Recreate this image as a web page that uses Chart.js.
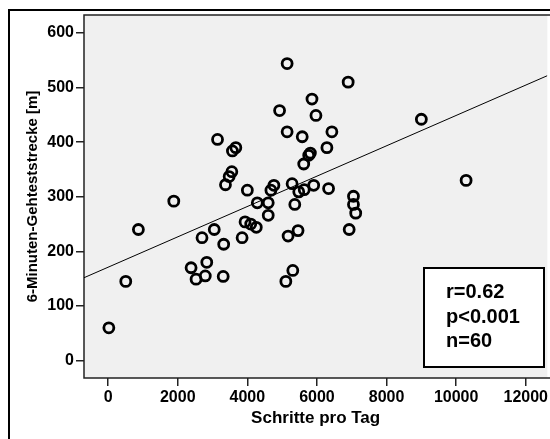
<!DOCTYPE html>
<html>
<head>
<meta charset="utf-8">
<script src="https://cdn.jsdelivr.net/npm/chart.js@4/dist/chart.umd.min.js"></script>
<style>
	body { margin: 0; background: #fff; overflow: hidden; }
	canvas { display: block; }
</style>
</head>
<body>
<canvas id="chart" width="550" height="439"></canvas>
<script>

// Schritte pro Tag vs. 6-Minuten-Gehtest
const stepsPerDay = [
	20, 506, 869, 1886, 2383, 2526, 2791, 2834, 2697, 3049,
	3320, 3306, 3143, 3371, 3477, 3554, 3571, 3669, 4000, 3849,
	3934, 4097, 4257, 4286, 4600, 4600, 4677, 4763, 4926, 5143,
	5143, 5106, 5171, 5286, 5306, 5363, 5457, 5477, 5577, 5620,
	5634, 5763, 5811, 5857, 5906, 5971, 6286, 6334, 6429, 6897,
	6926, 7049, 7049, 7114, 9000, 10286
];
const walkDistance = [
	60, 145, 240, 292, 170, 149, 155, 180, 225, 240,
	213, 154, 405, 322, 337, 346, 384, 390, 312, 225,
	254, 250, 244, 289, 289, 266, 312, 321, 458, 544,
	419, 145, 228, 324, 165, 286, 238, 309, 410, 360,
	313, 376, 380, 479, 321, 449, 390, 315, 419, 510,
	240, 301, 286, 270, 442, 330
];

// linear fit
const fitIntercept = 171;
const fitSlope = 0.0278;

const statLines = ['r=0.62', 'p<0.001', 'n=60'];

const xTicks = [0, 2000, 4000, 6000, 8000, 10000, 12000];
const yTicks = [0, 100, 200, 300, 400, 500, 600];
const xRange = [-694, 12620];
const yRange = [-32, 633];

const FONT = '"Liberation Sans", Arial, sans-serif';

let points = stepsPerDay.map((x, i) => ({x: x, y: walkDistance[i]}));
let fitLine = xRange.map(x => ({x: x, y: fitIntercept + fitSlope * x}));

// grey plot area, frame and outer border
const framePlugin = {
	id: 'frame',
	beforeDatasetsDraw(chart) {
		let ctx = chart.ctx;
		let a = chart.chartArea;
		ctx.save();
		ctx.fillStyle = '#f0f0f0';
		ctx.fillRect(a.left, a.top, a.right - a.left, a.bottom - a.top);
		ctx.strokeStyle = '#222';
		ctx.lineWidth = 1.5;
		ctx.beginPath();
		ctx.moveTo(a.right + 5, a.top);
		ctx.lineTo(a.left, a.top);
		ctx.lineTo(a.left, a.bottom);
		ctx.lineTo(a.right + 5, a.bottom);
		ctx.stroke();
		ctx.strokeStyle = '#000';
		ctx.lineWidth = 2;
		ctx.strokeRect(9, 10, chart.width + 20, chart.height + 20);
		ctx.restore();
	},
	afterDraw(chart) {
		// statistics box
		let ctx = chart.ctx;
		ctx.save();
		ctx.fillStyle = '#fff';
		ctx.fillRect(424, 268, 120, 99);
		ctx.strokeStyle = '#000';
		ctx.lineWidth = 2;
		ctx.strokeRect(424, 268, 120, 99);
		ctx.fillStyle = '#000';
		ctx.font = 'bold 20px ' + FONT;
		ctx.textBaseline = 'alphabetic';
		statLines.forEach((t, i) => {
			ctx.fillText(t, 446, 298 + i * 24.5);
		});
		ctx.restore();
	}
};

function fixedTicks(values) {
	return function(scale) {
		scale.ticks = values.map(v => ({value: v}));
	};
}

new Chart(document.getElementById('chart'), {
	type: 'scatter',
	data: {
		datasets: [
			{
				data: points,
				pointRadius: 5,
				pointHoverRadius: 5,
				pointBorderWidth: 2.8,
				pointBorderColor: '#000',
				pointBackgroundColor: 'rgba(0,0,0,0)',
				order: 1,
			},
			{
				type: 'line',
				data: fitLine,
				borderColor: '#000',
				borderWidth: 1,
				pointRadius: 0,
				fill: false,
				order: 2,
			},
		],
	},
	options: {
		responsive: false,
		animation: false,
		devicePixelRatio: 1,
		layout: {
			autoPadding: false,
			padding: {top: 15, right: 0, bottom: 0, left: 0},
		},
		plugins: {
			legend: {display: false},
			tooltip: {enabled: false},
		},
		scales: {
			x: {
				type: 'linear',
				min: xRange[0],
				max: xRange[1],
				afterBuildTicks: fixedTicks(xTicks),
				afterFit(scale) { scale.height = 61; },
				border: {display: false},
				grid: {drawOnChartArea: false, tickLength: 8, color: '#222', lineWidth: 1.5},
				ticks: {
					padding: 2,
					color: '#000',
					maxRotation: 0,
					autoSkip: false,
					callback: v => String(v),
					font: {family: FONT, size: 16, weight: 'bold'},
				},
				title: {
					display: true,
					text: 'Schritte pro Tag',
					color: '#000',
					font: {family: FONT, size: 17, weight: 'bold'},
					padding: {top: 0, bottom: 10},
				},
			},
			y: {
				type: 'linear',
				min: yRange[0],
				max: yRange[1],
				afterBuildTicks: fixedTicks(yTicks),
				afterFit(scale) { scale.width = 84; },
				border: {display: false},
				grid: {drawOnChartArea: false, tickLength: 8, color: '#222', lineWidth: 1.5},
				ticks: {
					padding: 2,
					color: '#000',
					autoSkip: false,
					callback: v => String(v),
					font: {family: FONT, size: 16, weight: 'bold'},
				},
				title: {
					display: true,
					text: '6-Minuten-Gehteststrecke [m]',
					color: '#000',
					font: {family: FONT, size: 15, weight: 'bold'},
					padding: {top: 24, bottom: 0},
				},
			},
		},
	},
	plugins: [framePlugin],
});
</script>
</body>
</html>
